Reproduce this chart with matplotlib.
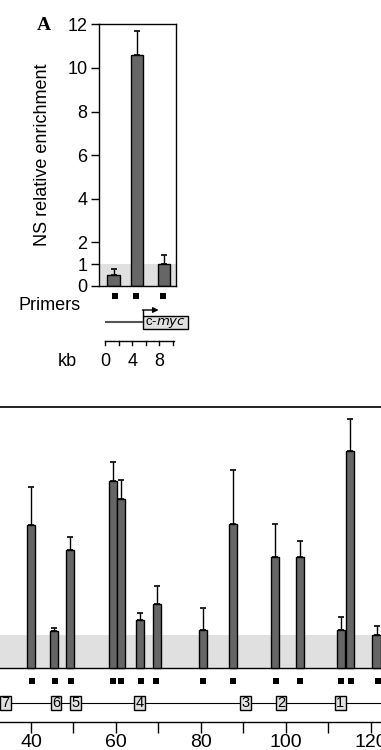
import matplotlib
matplotlib.use("Agg")
import matplotlib.pyplot as plt
from matplotlib.patches import Rectangle

plt.rcParams['font.family'] = ['Liberation Sans', 'DejaVu Sans']

# ---- Panel A data ----
a_pos_kb = [1.26, 4.7, 8.7]
a_values = [0.49, 10.57, 1.01]
a_errors = [0.31, 1.13, 0.40]
a_yticks = [0, 1, 2, 4, 6, 8, 10, 12]
a_kb_ticks = [0, 2, 4, 6, 8, 10]
a_kb_labels = ['0', '', '4', '', '8', '']

# ---- Panel B data ----
b_pos_kb = [40.0, 45.4, 49.2, 59.3, 61.2, 65.6, 69.6, 80.4, 87.5, 97.5, 103.4, 112.9, 115.0, 121.3]
b_values = [4.37, 1.12, 3.62, 5.74, 5.19, 1.47, 1.96, 1.15, 4.41, 3.40, 3.41, 1.15, 6.66, 1.00]
b_errors = [1.19, 0.09, 0.38, 0.56, 0.57, 0.23, 0.54, 0.70, 1.67, 1.00, 0.49, 0.40, 0.96, 0.29]
b_primers_kb = [40.2, 45.6, 49.3, 59.4, 61.2, 65.9, 69.3, 80.4, 87.5, 97.6, 103.3, 112.9, 115.2, 121.6]
b_exon_kb = [34.0, 45.9, 50.4, 65.6, 90.5, 98.8, 112.8]
b_exon_labels = ['7', '6', '5', '4', '3', '2', '1']
b_major_ticks = [40, 60, 80, 100, 120]
b_minor_ticks = [50, 70, 90, 110]

W, H = 381, 750
fig = plt.figure(figsize=(W / 100, H / 100), dpi=100)

def rect(x0, y0, x1, y1):
    # pixel coords (top-left origin) -> figure fractions
    return [x0 / W, 1 - y1 / H, (x1 - x0) / W, (y1 - y0) / H]

BAR_FC = '#666666'
BAND = '#e0e0e0'
FS = 13

# ---------------- Panel A ----------------
px_per_kb = 6.75
kb0_px = 105.3
ax_l, ax_r = 98.7, 175.7
axA = fig.add_axes(rect(ax_l, 24.3, ax_r, 286))
axA.set_xlim((ax_l - kb0_px) / px_per_kb, (ax_r - kb0_px) / px_per_kb)
axA.set_ylim(0, 12)
axA.axhspan(0, 1, color=BAND, zorder=0, lw=0)
axA.bar(a_pos_kb, a_values, width=1.9, color=BAR_FC, edgecolor='black', linewidth=1.0, zorder=2)
axA.errorbar(a_pos_kb, a_values, yerr=[[0] * 3, a_errors], fmt='none', ecolor='black',
             elinewidth=1.0, capsize=2.5, capthick=1.2, zorder=3)
axA.set_yticks(a_yticks)
axA.set_yticklabels([str(t) for t in a_yticks], fontsize=FS)
axA.set_xticks([])
axA.tick_params(axis='y', direction='out', length=6, width=1, pad=2)
for s in axA.spines.values():
    s.set_linewidth(1.0)
axA.set_ylabel('NS relative enrichment', fontsize=FS, labelpad=12)
fig.text(37 / W, 1 - 25 / H, 'A', fontsize=14, fontweight='bold',
         family=['Liberation Serif', 'DejaVu Serif'], ha='left', va='center')

# overlay axes for primers / gene / kb scale of panel A (in kb vs pixel y)
axA2 = fig.add_axes(rect(0, 286, W, 380))
axA2.set_xlim(-kb0_px / px_per_kb, (W - kb0_px) / px_per_kb)
axA2.set_ylim(380, 286)
axA2.axis('off')
# primers
primer_a = [1.45, 4.5, 8.6]
axA2.scatter(primer_a, [296] * 3, marker='s', s=24, color='black', lw=0)
fig.text(81 / W, 1 - 305 / H, 'Primers', fontsize=FS, ha='right', va='center')
# gene
axA2.plot([0, 5.6], [321.7, 321.7], color='#555555', lw=1.5, solid_capstyle='butt')
axA2.add_patch(Rectangle((5.6, 315.7), 6.65, 13.3, facecolor=BAND, edgecolor='black', lw=1.0,
                         clip_on=False))
axA2.text(8.9, 322.5, r'c-$\it{myc}$', fontsize=9.5, ha='center', va='center')
axA2.plot([5.6, 5.6], [315.7, 310], color='black', lw=1.0)
axA2.annotate('', xy=(7.9, 310), xytext=(5.5, 310),
              arrowprops=dict(arrowstyle='-|>', color='black', lw=1.0,
                              mutation_scale=8, shrinkA=0, shrinkB=0))
# kb scale
axA2.plot([0, 10.2], [341, 341], color='black', lw=1.0)
for t, lab in zip(a_kb_ticks, a_kb_labels):
    axA2.plot([t, t], [341, 345], color='black', lw=1.0)
    if lab:
        axA2.text(t, 361, lab, fontsize=FS, ha='center', va='center')
fig.text(67 / W, 1 - 361 / H, 'kb', fontsize=FS, ha='center', va='center')

# ---------------- Panel B ----------------
unit = 32.6
base_px = 668
bpx_per_kb = 4.25
kb40_px = 31
xl = 40 + (0 - kb40_px) / bpx_per_kb
xr = 40 + (W - kb40_px) / bpx_per_kb
ymin = -(721.7 - base_px) / unit
axB = fig.add_axes(rect(0, 407, W, 721.7))
axB.set_xlim(xl, xr)
axB.set_ylim(ymin, 8)
axB.axhspan(0, 1, color=BAND, zorder=0, lw=0)
axB.axhline(0, color='black', lw=1.0, zorder=1)
axB.bar(b_pos_kb, b_values, width=1.9, color=BAR_FC, edgecolor='black', linewidth=1.0, zorder=2)
axB.errorbar(b_pos_kb, b_values, yerr=[[0] * len(b_values), b_errors], fmt='none',
             ecolor='black', elinewidth=1.0, capsize=2.5, capthick=1.2, zorder=3)
axB.scatter(b_primers_kb, [-0.4] * len(b_primers_kb), marker='s', s=24, color='black', lw=0)
# gene line and exons
axB.plot([xl, xr], [-1.07, -1.07], color='black', lw=0.8, zorder=1)
ex_w, ex_h = 2.5, 0.42
for xk, lab in zip(b_exon_kb, b_exon_labels):
    axB.add_patch(Rectangle((xk - ex_w / 2, -1.07 - ex_h / 2), ex_w, ex_h,
                            facecolor=BAND, edgecolor='black', lw=1.0, zorder=2))
    axB.text(xk, -1.07, lab, fontsize=10.5, ha='center', va='center', zorder=3)
for s in ['left', 'right']:
    axB.spines[s].set_visible(False)
axB.spines['top'].set_linewidth(1.2)
axB.spines['bottom'].set_linewidth(1.0)
axB.set_yticks([])
axB.set_xticks(b_major_ticks)
axB.set_xticks(b_minor_ticks, minor=True)
axB.set_xticklabels([str(t) for t in b_major_ticks], fontsize=14)
axB.tick_params(axis='x', which='major', direction='out', length=8, width=1, pad=1)
axB.tick_params(axis='x', which='minor', direction='out', length=8, width=1)

fig.savefig('out.png', dpi=100)
